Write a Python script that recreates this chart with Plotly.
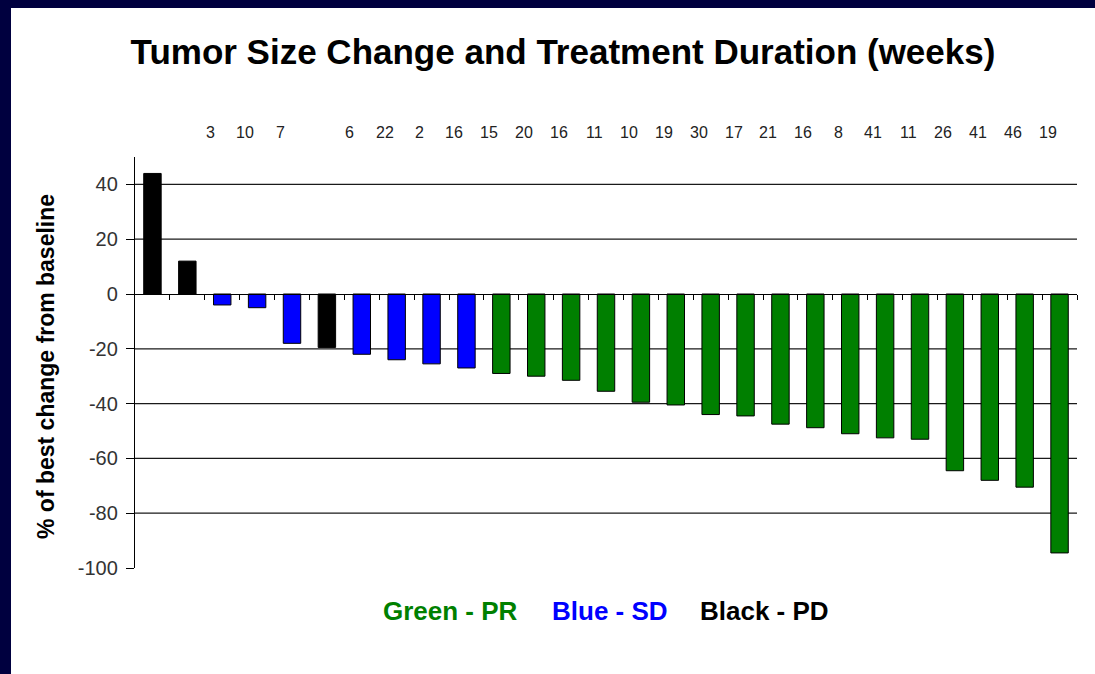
import plotly.graph_objects as go

# ---- data ----
patients = list(range(1, 28))
best_change = [44, 12, -4, -5, -18, -19.5, -22, -24, -25.5, -27, -29, -30, -31.5,
               -35.5, -39.5, -40.5, -44, -44.5, -47.5, -48.8, -51, -52.5, -53,
               -64.5, -68, -70.5, -94.5]
response = ["PD", "PD", "SD", "SD", "SD", "PD", "SD", "SD", "SD", "SD"] + ["PR"] * 17
duration_weeks = [None, None, 3, 10, 7, None, 6, 22, 2, 16, 15, 20, 16, 11, 10, 19,
                  30, 17, 21, 16, 8, 41, 11, 26, 41, 46, 19]
y_tick_vals = [40, 20, 0, -20, -40, -60, -80, -100]
y_tick_text = ["40", "20", "0", "-20", "-40", "-60", "-80", "-100"]
grid_vals = [40, 20, -20, -40, -60, -80]
legend_items = [("Green - PR", "#008000"), ("Blue - SD", "#0000FF"), ("Black - PD", "#000000")]

color_map = {"PR": "#007F00", "SD": "#0000FF", "PD": "#000000"}
bar_colors = [color_map[r] for r in response]

W, H = 1095, 674
ML, MR, MT, MB = 135, 18, 157, 106
PW, PH = W - ML - MR, H - MT - MB
Y_MIN, Y_MAX = -100, 50


def px_to_paper_x(px):
    return (px - ML) / PW


def px_to_paper_y(py):
    return (H - MB - py) / PH


fig = go.Figure()
fig.add_trace(go.Bar(
    x=patients, y=best_change, width=0.5,
    marker=dict(color=bar_colors, line=dict(color="#000000", width=1)),
    showlegend=False, hoverinfo="x+y",
))

# horizontal gridlines (no line at -100)
for v in grid_vals:
    fig.add_hline(y=v, line=dict(color="#1a1a1a", width=1.2), layer="below")

# duration labels at top
for xi, d in zip(patients, duration_weeks):
    if d is None:
        continue
    fig.add_annotation(x=xi, y=px_to_paper_y(132), xref="x", yref="paper",
                       xanchor="center", yanchor="middle",
                       text=str(d), showarrow=False, xshift=-12,
                       font=dict(family="Liberation Sans, Arial", size=16, color="#222222"))

# response legend text
legend_centers = [450, 610, 764]
for (txt, col), cx in zip(legend_items, legend_centers):
    fig.add_annotation(x=px_to_paper_x(cx), y=px_to_paper_y(611), xref="paper", yref="paper",
                       xanchor="center", yanchor="middle",
                       text=f"<b>{txt}</b>", showarrow=False,
                       font=dict(family="Liberation Sans, Arial", size=26, color=col))

# y axis title
fig.add_annotation(x=px_to_paper_x(46), y=px_to_paper_y(367), xref="paper", yref="paper",
                   xanchor="center", yanchor="middle",
                   text="<b>% of best change from baseline</b>", textangle=-90, showarrow=False,
                   font=dict(family="Liberation Sans, Arial", size=23, color="#000000"))

# navy frame bands (top and left)
fig.add_shape(type="rect", xref="paper", yref="paper",
              x0=px_to_paper_x(0), x1=px_to_paper_x(W), y0=px_to_paper_y(8), y1=px_to_paper_y(0),
              fillcolor="#00003F", line=dict(width=0), layer="below")
fig.add_shape(type="rect", xref="paper", yref="paper",
              x0=px_to_paper_x(0), x1=px_to_paper_x(11), y0=px_to_paper_y(H), y1=px_to_paper_y(0),
              fillcolor="#00003F", line=dict(width=0), layer="below")

zero_pos = (0 - Y_MIN) / (Y_MAX - Y_MIN)

fig.update_layout(
    width=W, height=H,
    margin=dict(l=ML, r=MR, t=MT, b=MB),
    paper_bgcolor="#FFFFFF", plot_bgcolor="#FFFFFF",
    title=dict(text="<b>Tumor Size Change and Treatment Duration (weeks)</b>",
               x=563 / W, xanchor="center", xref="container",
               y=1 - 52 / H, yanchor="middle", yref="container",
               font=dict(family="Liberation Sans, Arial", size=35, color="#000000")),
    xaxis=dict(range=[0.5, 27.5], anchor="free", position=zero_pos,
               showline=True, linecolor="#000000", linewidth=1.3,
               tickmode="array", tickvals=[p + 0.5 for p in patients],
               ticks="outside", ticklen=5, tickcolor="#000000", tickwidth=1,
               showticklabels=False, showgrid=False, zeroline=False),
    yaxis=dict(range=[Y_MIN, Y_MAX], showline=True, linecolor="#000000", linewidth=1.3,
               tickmode="array", tickvals=y_tick_vals, ticktext=y_tick_text,
               ticks="outside", ticklen=8, tickcolor="#000000",
               tickfont=dict(family="Liberation Sans, Arial", size=20, color="#333333"),
               ticklabelstandoff=4,
               showgrid=False, zeroline=False),
)

fig.write_html("out.html", config={"displayModeBar": False},
               post_script="document.body.style.margin='0';document.body.style.overflow='hidden';")
